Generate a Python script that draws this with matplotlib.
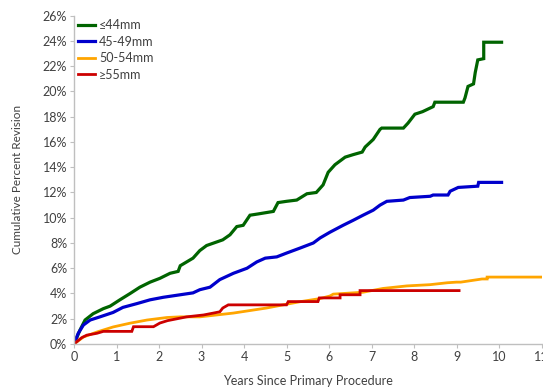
import matplotlib
matplotlib.use("Agg")
import matplotlib.pyplot as plt
from matplotlib.ticker import FuncFormatter, MultipleLocator

plt.rcParams["font.family"] = ["Lato", "DejaVu Sans"]

# years since primary procedure / cumulative percent revision
t_44 = [0, 0.14, 0.26, 0.45, 0.69, 0.85, 1.08, 1.32, 1.55, 1.79, 2.02, 2.26,
        2.45, 2.5, 2.8, 2.96, 3.12, 3.5, 3.67, 3.83, 3.98, 4.14, 4.33, 4.69, 4.8,
        5.0, 5.24, 5.48, 5.7, 5.86, 5.98, 6.14, 6.38, 6.57, 6.78, 6.85, 7.04, 7.2,
        7.24, 7.75, 7.86, 8.02, 8.2, 8.45, 8.49, 9.16, 9.2, 9.27, 9.4, 9.44, 9.5,
        9.64, 9.64, 10.06]
p_44 = [0, 1.1, 1.9, 2.4, 2.8, 3.0, 3.5, 4.0, 4.5, 4.9, 5.2, 5.6,
        5.75, 6.2, 6.8, 7.4, 7.8, 8.25, 8.65, 9.3, 9.4, 10.2, 10.3, 10.5, 11.2,
        11.3, 11.4, 11.9, 12.0, 12.6, 13.6, 14.2, 14.8, 15.0, 15.2, 15.6, 16.2, 17.0,
        17.1, 17.1, 17.5, 18.2, 18.4, 18.8, 19.15, 19.15, 19.5, 20.4, 20.6, 21.5, 22.5,
        22.6, 23.9, 23.9]

t_45 = [0, 0.1, 0.22, 0.38, 0.61, 0.92, 1.15, 1.48, 1.79, 2.1, 2.5, 2.8,
        2.96, 3.2, 3.43, 3.75, 4.07, 4.3, 4.5, 4.77, 5.0, 5.32, 5.63, 5.79, 6.02,
        6.33, 6.57, 6.8, 7.04, 7.2, 7.36, 7.75, 7.9, 8.38, 8.45, 8.8, 8.85, 9.04,
        9.5, 9.52, 10.06]
p_45 = [0, 0.85, 1.5, 1.9, 2.15, 2.5, 2.9, 3.2, 3.5, 3.7, 3.9, 4.05,
        4.3, 4.5, 5.1, 5.6, 6.0, 6.5, 6.8, 6.9, 7.2, 7.6, 8.0, 8.4, 8.85,
        9.4, 9.8, 10.2, 10.6, 11.0, 11.3, 11.4, 11.6, 11.7, 11.8, 11.8, 12.1, 12.4,
        12.5, 12.8, 12.8]

t_50 = [0, 0.22, 0.54, 0.92, 1.32, 1.72, 2.19, 2.5, 2.96, 3.75, 4.53, 4.92,
        5.32, 5.79, 6.02, 6.1, 6.8, 7.27, 7.83, 8.38, 8.78, 9.0, 9.1, 9.6, 9.72,
        9.72, 11.0]
p_50 = [0, 0.55, 0.95, 1.35, 1.65, 1.9, 2.1, 2.15, 2.15, 2.45, 2.85, 3.1,
        3.35, 3.6, 3.8, 3.95, 4.1, 4.4, 4.6, 4.7, 4.85, 4.9, 4.9, 5.15, 5.15,
        5.3, 5.3]

t_55 = [0, 0.18, 0.3, 0.54, 0.69, 1.36, 1.4, 1.87, 2.02, 2.2, 2.5, 2.65, 3.05,
        3.28, 3.43, 3.5, 3.63, 5.0, 5.04, 5.74, 5.77, 6.26, 6.26, 6.73, 6.73, 9.06]
p_55 = [0, 0.5, 0.7, 0.85, 1.0, 1.0, 1.37, 1.37, 1.66, 1.85, 2.05, 2.15, 2.3,
        2.45, 2.55, 2.85, 3.1, 3.1, 3.36, 3.36, 3.65, 3.65, 3.9, 3.9, 4.23, 4.23]

labels = ["\u226444mm", "45-49mm", "50-54mm", "\u226555mm"]
colors = ["#006400", "#0000CC", "#FFA500", "#CC0000"]
widths = [2.3, 2.3, 2.0, 2.0]

fig = plt.figure(figsize=(5.43, 3.87), dpi=100)
ax = fig.add_axes([0.1363, 0.1111, 0.861, 0.8483])

series = [(t_44, p_44), (t_45, p_45), (t_50, p_50), (t_55, p_55)]
for (t, p), lab, c, w in zip(series, labels, colors, widths):
    ax.plot(t, [v / 100 for v in p], color=c, linewidth=w, label=lab,
            solid_joinstyle="miter")

ax.set_xlim(0, 11)
ax.set_ylim(0, 0.26)
ax.xaxis.set_major_locator(MultipleLocator(1))
ax.yaxis.set_major_locator(MultipleLocator(0.02))
ax.yaxis.set_major_formatter(FuncFormatter(lambda v, pos: f"{v * 100:.0f}%"))

for side in ["top", "right"]:
    ax.spines[side].set_visible(False)
for side in ["left", "bottom"]:
    ax.spines[side].set_color("#BFBFBF")
    ax.spines[side].set_linewidth(1.0)

ax.tick_params(axis="both", colors="#BFBFBF", labelcolor="#404040",
               labelsize=9, length=3, width=0.8, pad=2)

ax.set_xlabel("Years Since Primary Procedure", fontsize=9, color="#404040",
              labelpad=9)
ax.set_ylabel("Cumulative Percent Revision", fontsize=8.5, color="#404040",
              labelpad=14)

ax.legend(loc="upper left", bbox_to_anchor=(0.0, 1.0), frameon=False,
          fontsize=9, labelcolor="#404040", handlelength=1.4,
          handletextpad=0.3, labelspacing=0.35, borderaxespad=0.2,
          borderpad=0.1)

fig.savefig("out.png", dpi=100)
